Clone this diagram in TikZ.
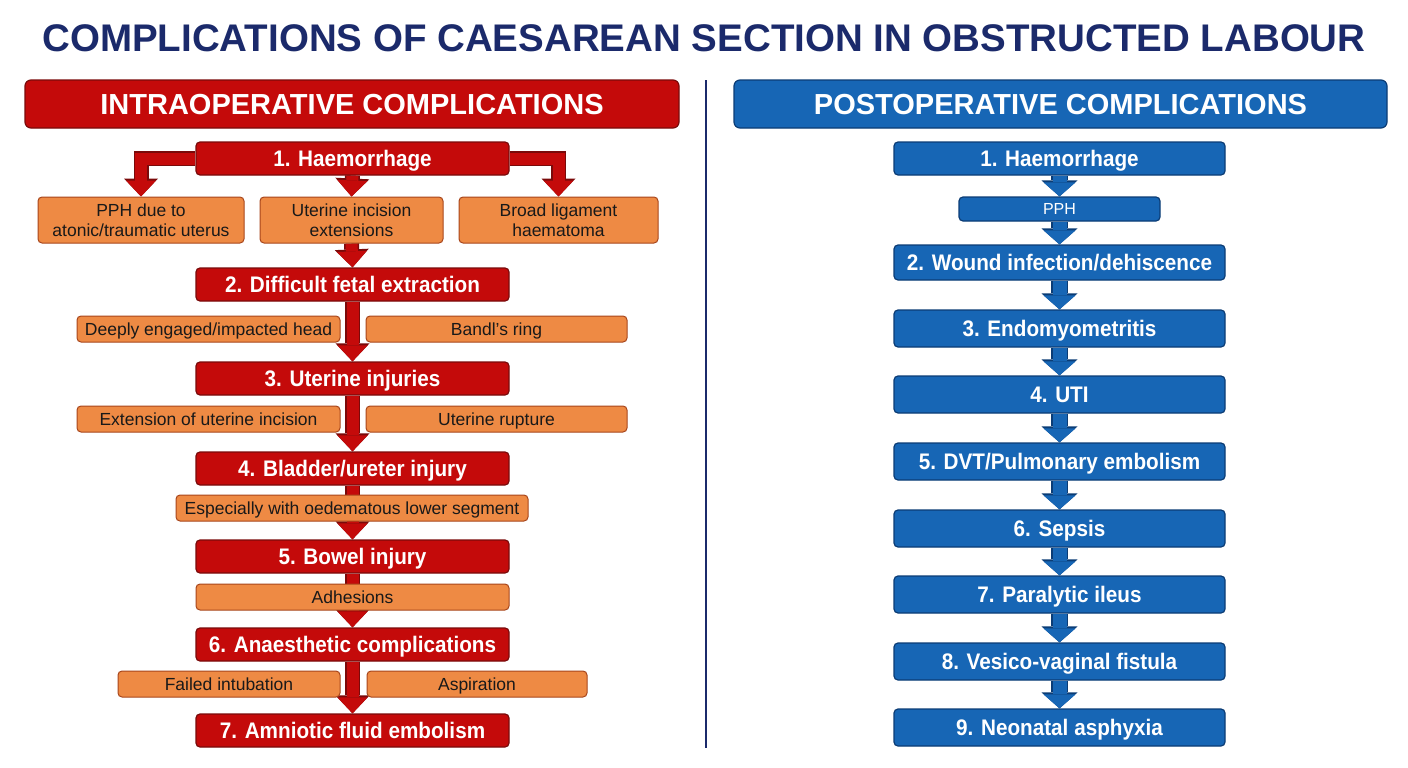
\documentclass[tikz,border=0pt]{standalone}
\usepackage{fontspec}
\setmainfont{Liberation Sans}
\newfontfamily\condfont[FakeStretch=0.92]{Liberation Sans}
\usetikzlibrary{arrows.meta}
\pgfdeclarelayer{bg}
\pgfsetlayers{bg,main}
\definecolor{navy}{HTML}{1B2A6B}
\definecolor{dred}{HTML}{C40A0A}
\definecolor{dredb}{HTML}{7A0A0A}
\definecolor{orng}{HTML}{EE8A44}
\definecolor{orngb}{HTML}{A8461C}
\definecolor{blu}{HTML}{1766B5}
\definecolor{blub}{HTML}{0B3C75}
\tikzset{
  redbox/.style={draw=dredb, fill=dred, line width=1.2pt, rounded corners=4pt,
    minimum width=313pt, minimum height=33pt, text=white, inner sep=0pt,
    text height=16pt, text depth=0pt,
    font=\condfont\bfseries\fontsize{22.5}{24}\selectfont},
  subbox/.style={draw=orngb, fill=orng, line width=1pt, rounded corners=4pt,
    minimum height=26pt, text=black!90, inner sep=0pt, align=center,
    font=\fontsize{17.5}{20}\selectfont},
  subline/.style={subbox, text height=12.5pt, text depth=0pt},
  bluebox/.style={draw=blub, fill=blu, line width=1.2pt, rounded corners=4pt,
    minimum width=331pt, minimum height=37pt, text=white, inner sep=0pt,
    text height=16pt, text depth=0pt,
    font=\condfont\bfseries\fontsize{22.5}{24}\selectfont},
  header/.style={line width=1.2pt, rounded corners=6pt, minimum width=654pt,
    minimum height=48pt, text=white, inner sep=0pt,
    text height=21pt, text depth=0pt,
    font=\bfseries\fontsize{29}{32}\selectfont},
  rarrout/.style={draw=dredb, line width=15pt, -{Triangle[width=34pt,length=18pt,line width=0pt]}},
  rarrin/.style={draw=dred, line width=12pt, -{Triangle[width=30pt,length=16pt,line width=0pt]}},
  barrout/.style={draw=blub, line width=17pt, -{Triangle[width=36pt,length=16pt,line width=0pt]}},
  barrin/.style={draw=blu, line width=14pt, -{Triangle[width=32pt,length=14pt,line width=0pt]}},
}
\begin{document}
\begin{tikzpicture}[x=1pt,y=-1pt]
\useasboundingbox (0,0) rectangle (1408,768);
% title
\node[font=\bfseries\fontsize{38.5}{42}\selectfont, text=navy] (title) at (704,38)
  {COMPLICATIONS OF CAESAREAN SECTION IN OBSTRUCTED LABOUR};
% divider
\coordinate (dtop) at (706,80);
\coordinate (dbot) at (706,748);
\draw[navy, line width=2pt] (dtop) -- (dbot);
% headers
\node[header, draw=dredb, fill=dred] (lh) at (352,104) {INTRAOPERATIVE COMPLICATIONS};
\node[header, draw=blub, fill=blu, minimum width=653pt] (rh) at (1060.5,104) {POSTOPERATIVE COMPLICATIONS};
% left main
\node[redbox] (r1) at (352.5,158.5) {1. Haemorrhage};
\node[redbox] (r2) at (352.5,284.5) {2. Difficult fetal extraction};
\node[redbox] (r3) at (352.5,378.5) {3. Uterine injuries};
\node[redbox] (r4) at (352.5,468.5) {4. Bladder/ureter injury};
\node[redbox] (r5) at (352.5,556.5) {5. Bowel injury};
\node[redbox] (r6) at (352.5,644.5) {6. Anaesthetic complications};
\node[redbox] (r7) at (352.5,730.5) {7. Amniotic fluid embolism};
% left subs
\node[subbox, minimum width=206pt, minimum height=46pt] (s1a) at (141,220) {PPH due to\\atonic/traumatic uterus};
\node[subbox, minimum width=183pt, minimum height=46pt] (s1b) at (351.5,220) {Uterine incision\\extensions};
\node[subbox, minimum width=199pt, minimum height=46pt] (s1c) at (558.5,220) {Broad ligament\\haematoma};
\node[subline, minimum width=263pt] (s2a) at (208.5,329) {Deeply engaged/impacted head};
\node[subline, minimum width=261pt] (s2b) at (496.5,329) {Bandl's ring};
\node[subline, minimum width=263pt] (s3a) at (208.5,419) {Extension of uterine incision};
\node[subline, minimum width=261pt] (s3b) at (496.5,419) {Uterine rupture};
\node[subline, minimum width=352pt] (s4) at (352,508) {Especially with oedematous lower segment};
\node[subline, minimum width=313pt] (s5) at (352.5,597) {Adhesions};
\node[subline, minimum width=222pt] (s6a) at (229,684) {Failed intubation};
\node[subline, minimum width=220pt] (s6b) at (477,684) {Aspiration};
% right
\node[bluebox, minimum height=33pt] (b1) at (1059.5,158.5) {1. Haemorrhage};
\node[bluebox, minimum width=201pt, minimum height=24pt, text height=11.5pt, font=\fontsize{16}{18}\selectfont] (bp) at (1059.5,209) {PPH};
\node[bluebox, minimum height=35pt] (b2) at (1059.5,262.5) {2. Wound infection/dehiscence};
\node[bluebox] (b3) at (1059.5,328.5) {3. Endomyometritis};
\node[bluebox] (b4) at (1059.5,394.5) {4. UTI};
\node[bluebox] (b5) at (1059.5,461.5) {5. DVT/Pulmonary embolism};
\node[bluebox] (b6) at (1059.5,528.5) {6. Sepsis};
\node[bluebox] (b7) at (1059.5,594.5) {7. Paralytic ileus};
\node[bluebox] (b8) at (1059.5,661.5) {8. Vesico-vaginal fistula};
\node[bluebox] (b9) at (1059.5,727.5) {9. Neonatal asphyxia};
% arrows
\begin{pgfonlayer}{bg}
\fill[white] (0,0) rectangle (1408,768);
\foreach \s in {rarrout,rarrin}{
  \draw[\s] (r1.west) -| (s1a.north);
  \draw[\s] (r1.east) -| (s1c.north);
  \draw[\s] (r1.south) -- (s1b.north);
  \draw[\s] (s1b.south) -- (r2.north);
  \draw[\s] (r2.south) -- (r3.north);
  \draw[\s] (r3.south) -- (r4.north);
  \draw[\s] (r4.south) -- (r5.north);
  \draw[\s] (r5.south) -- (r6.north);
  \draw[\s] (r6.south) -- (r7.north);
}
\foreach \s in {barrout,barrin}{
  \draw[\s] (b1.south) -- (bp.north);
  \draw[\s] (bp.south) -- (b2.north);
  \draw[\s] (b2.south) -- (b3.north);
  \draw[\s] (b3.south) -- (b4.north);
  \draw[\s] (b4.south) -- (b5.north);
  \draw[\s] (b5.south) -- (b6.north);
  \draw[\s] (b6.south) -- (b7.north);
  \draw[\s] (b7.south) -- (b8.north);
  \draw[\s] (b8.south) -- (b9.north);
}
\end{pgfonlayer}
\end{tikzpicture}
\end{document}
